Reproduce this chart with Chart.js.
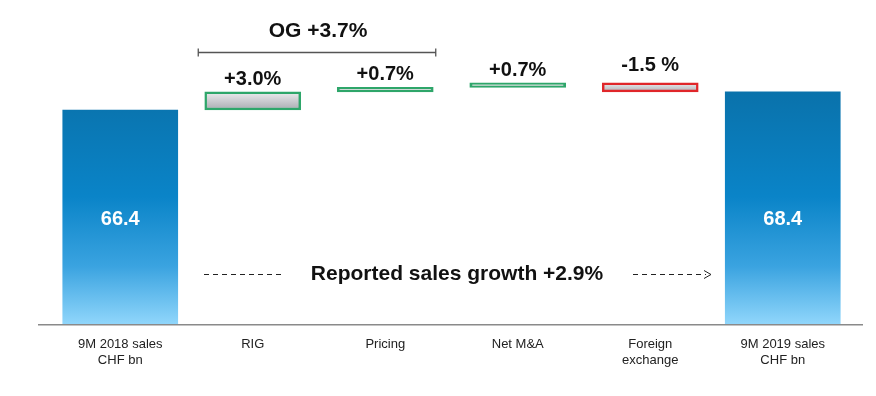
<!DOCTYPE html>
<html lang="en">
<head>
    <meta charset="UTF-8">
    <title>Sales bridge</title>
    <style>
        html, body { margin: 0; padding: 0; background: #fff; }
        #wrap { position: relative; width: 876px; height: 396px; }
    </style>
</head>
<body>
<div id="wrap">
    <canvas id="myChart" width="876" height="396"></canvas>
</div>
<script src="https://cdn.jsdelivr.net/npm/chart.js"></script>
<script>
    // data
    const categories = [['9M 2018 sales', 'CHF bn'], 'RIG', 'Pricing', 'Net M&A', ['Foreign', 'exchange'], ['9M 2019 sales', 'CHF bn']]
    const salesValues = [66.4, null, null, null, null, 68.4]
    const bridgeStart = [null, 66.4, 68.4, 68.9, 69.4, null]
    const bridgeEnd = [null, 68.4, 68.9, 69.4, 68.4, null]
    const bridgeLabels = ['', '+3.0%', '+0.7%', '+0.7%', '-1.5 %', '']
    const salesLabels = ['66.4', '', '', '', '', '68.4']
    const organicLabel = 'OG +3.7%'
    const reportedLabel = 'Reported sales growth +2.9%'

    const yMin = 42.6
    const yMax = 77.5

    const bridgeData = bridgeStart.map((s, i) => s === null ? null : [s, bridgeEnd[i]])

    function blueFill(ctx) {
        const chart = ctx.chart
        const area = chart.chartArea
        if (!area) return '#1a86c8'
        const y = chart.scales.y
        const g = chart.ctx.createLinearGradient(0, y.getPixelForValue(68.4), 0, area.bottom)
        g.addColorStop(0, '#0a72ab')
        g.addColorStop(0.45, '#0a84c8')
        g.addColorStop(0.75, '#3aa3e0')
        g.addColorStop(1, '#90d6fb')
        return g
    }

    function greyFill(ctx) {
        const chart = ctx.chart
        if (!chart.chartArea || ctx.raw == null) return '#cccccc'
        const y = chart.scales.y
        const top = y.getPixelForValue(Math.max(ctx.raw[0], ctx.raw[1]))
        const bot = y.getPixelForValue(Math.min(ctx.raw[0], ctx.raw[1]))
        const g = chart.ctx.createLinearGradient(0, top, 0, bot + 1)
        g.addColorStop(0, '#ececee')
        g.addColorStop(1, '#a6a7ae')
        return g
    }

    const decorations = {
        id: 'decorations',
        afterDatasetsDraw(chart) {
            const c = chart.ctx
            const area = chart.chartArea
            const sales = chart.getDatasetMeta(0).data
            const bridge = chart.getDatasetMeta(1).data
            c.save()

            // baseline
            c.strokeStyle = '#8a8a8a'
            c.lineWidth = 1.5
            c.beginPath()
            c.moveTo(38, area.bottom + 0.5)
            c.lineTo(863, area.bottom + 0.5)
            c.stroke()

            c.textAlign = 'center'
            c.textBaseline = 'middle'

            // values inside the blue bars
            c.fillStyle = '#ffffff'
            c.font = 'bold 20px "Liberation Sans", Arial, sans-serif'
            salesLabels.forEach((t, i) => {
                if (!t) return
                c.fillText(t, sales[i].x, area.bottom - 105)
            })

            // percentages over the bridge bars
            c.fillStyle = '#111111'
            c.font = 'bold 20px "Liberation Sans", Arial, sans-serif'
            c.textBaseline = 'alphabetic'
            bridgeLabels.forEach((t, i) => {
                if (!t) return
                const b = bridge[i]
                const top = Math.min(b.y, b.base)
                const gap = i === 4 ? 12 : 7
                c.fillText(t, b.x, top - gap)
            })

            // organic growth bracket
            const l = bridge[1].x - 55
            const r = bridge[2].x + 51
            c.strokeStyle = '#555555'
            c.lineWidth = 1.3
            c.beginPath()
            c.moveTo(l, 52.5); c.lineTo(r, 52.5)
            c.moveTo(l + 0.5, 48.5); c.lineTo(l + 0.5, 56.5)
            c.moveTo(r - 0.5, 48.5); c.lineTo(r - 0.5, 56.5)
            c.stroke()
            c.textBaseline = 'middle'
            c.font = 'bold 21px "Liberation Sans", Arial, sans-serif'
            c.fillText(organicLabel, (l + r) / 2 + 1, 31)

            // reported growth with dashed arrow
            c.fillText(reportedLabel, 457, 274)
            c.strokeStyle = '#222222'
            c.lineWidth = 1
            c.setLineDash([5, 4])
            c.beginPath()
            c.moveTo(204, 274.5); c.lineTo(284, 274.5)
            c.moveTo(633, 274.5); c.lineTo(706, 274.5)
            c.stroke()
            c.setLineDash([])
            c.beginPath()
            c.moveTo(704, 270.5); c.lineTo(711, 274.5); c.lineTo(704, 278.5)
            c.stroke()

            c.restore()
        }
    }

    var ctx = document.getElementById('myChart')
    var myChart = new Chart(ctx, {
        type: 'bar',
        data: {
            labels: categories,
            datasets: [{
                label: 'Sales',
                data: salesValues,
                backgroundColor: blueFill,
                borderWidth: 0,
                barThickness: 115,
                grouped: false
            }, {
                label: 'Bridge',
                data: bridgeData,
                backgroundColor: greyFill,
                borderColor: ['#2ea66a', '#2ea66a', '#2ea66a', '#2ea66a', '#e0262a', '#2ea66a'],
                borderWidth: 2.5,
                borderSkipped: false,
                barThickness: 96,
                grouped: false
            }]
        },
        plugins: [decorations],
        options: {
            responsive: false,
            animation: false,
            layout: { padding: { left: 54, right: 27, top: 10, bottom: 16 } },
            plugins: {
                legend: { display: false },
                tooltip: { enabled: false }
            },
            scales: {
                x: {
                    grid: { display: false, drawTicks: false },
                    border: { display: false },
                    ticks: {
                        padding: 12,
                        color: '#222222',
                        font: { family: '"Liberation Sans", Arial, sans-serif', size: 13, lineHeight: 1.22 },
                        maxRotation: 0,
                        autoSkip: false
                    }
                },
                y: {
                    display: false,
                    min: yMin,
                    max: yMax
                }
            }
        }
    })
</script>
</body>
</html>
